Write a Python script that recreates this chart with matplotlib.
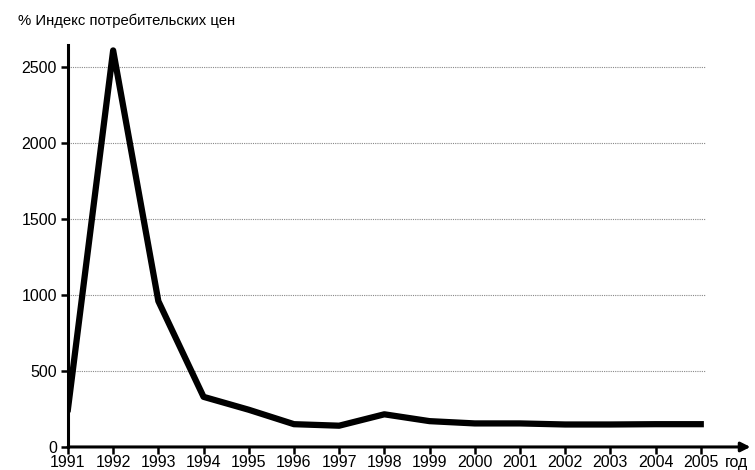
import matplotlib
matplotlib.use("Agg")
import matplotlib.pyplot as plt

years = [1991, 1992, 1993, 1994, 1995, 1996, 1997, 1998, 1999, 2000, 2001, 2002, 2003, 2004, 2005]
cpi = [250, 2610, 960, 330, 245, 150, 140, 215, 170, 155, 155, 148, 148, 150, 150]
yticks = [0, 500, 1000, 1500, 2000, 2500]

plt.rcParams['font.family'] = ['Liberation Sans', 'DejaVu Sans']

fig = plt.figure(figsize=(7.55, 4.70), dpi=100)
ax = fig.add_axes([0.090, 0.049, 0.904, 0.855])
ax.set_xlim(1991, 2006.1)
ax.set_ylim(0, 2645)

for v in yticks[1:]:
    ax.plot([1991, 2005.1], [v, v], color='#888888', lw=0.8, ls=(0, (1, 1)), zorder=1)

ax.plot(years, cpi, color='black', lw=4.5, solid_joinstyle='round', zorder=3)

ax.spines['top'].set_visible(False)
ax.spines['right'].set_visible(False)
ax.spines['bottom'].set_visible(False)
ax.spines['left'].set_linewidth(2.2)
ax.annotate('', xy=(1.0, 0), xycoords='axes fraction', xytext=(0, 0),
            arrowprops=dict(arrowstyle='-|>', color='black', lw=2.2, mutation_scale=14,
                            shrinkA=0, shrinkB=0))

ax.set_xticks(years)
ax.set_xticklabels([str(y) for y in years], fontsize=11.5)
ax.set_yticks(yticks)
ax.set_yticklabels([str(v) for v in yticks], fontsize=11.5)
ax.tick_params(axis='both', length=5, width=1.8, color='black', pad=1)
ax.tick_params(axis='y', pad=3)

fig.text(0.024, 0.955, '% Индекс потребительских цен', fontsize=10.7, ha='left', va='center')
fig.text(0.960, 0.016, 'год', fontsize=11.5, ha='left', va='center')

fig.savefig('out.png', dpi=100)
